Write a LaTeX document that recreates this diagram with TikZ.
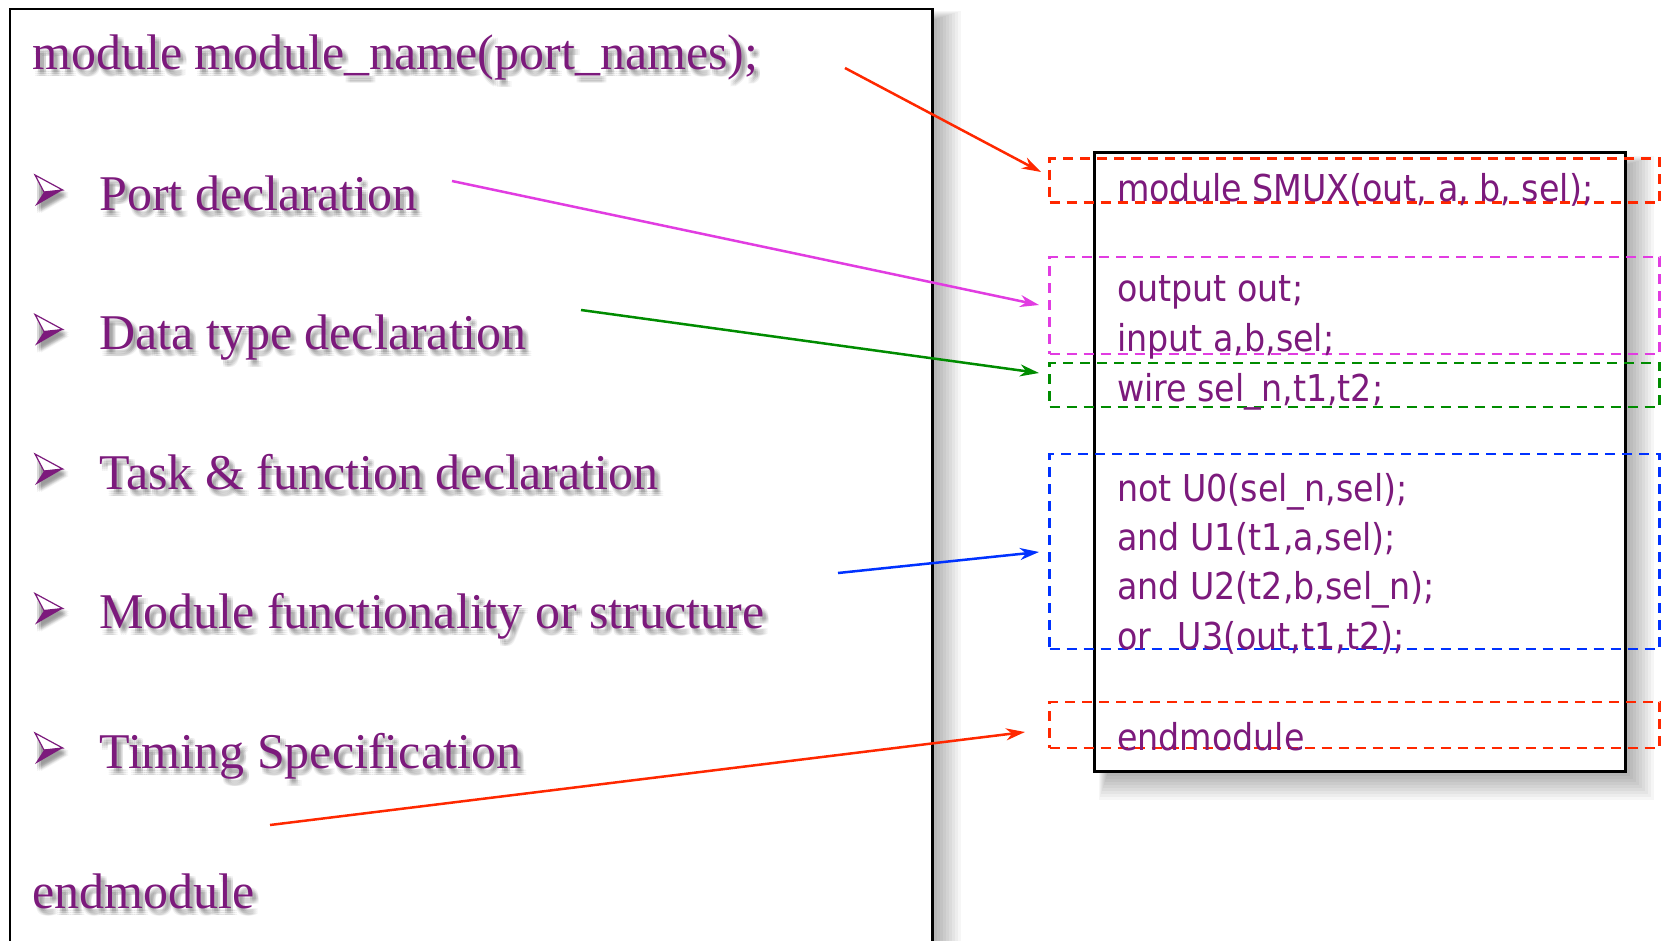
\documentclass[tikz,border=0pt]{standalone}
\usepackage{fontspec}
\setmainfont{Liberation Serif}
\newfontfamily\codefont{DejaVu Sans Condensed}
\usetikzlibrary{arrows.meta,calc}
\definecolor{vpurple}{RGB}{124,26,124}
\definecolor{ared}{RGB}{255,40,0}
\definecolor{amag}{RGB}{225,60,225}
\definecolor{agreen}{RGB}{0,140,0}
\definecolor{ablue}{RGB}{0,50,255}
\newcommand\lefttext[4]{%
  \foreach \dx/\dy [count=\k] in {2/3,4/3,6/3,2/5,4/5,6/5,2/7,4/7,6/7} {
    \node[lefttxt, text=black, text opacity=0.055] (#1s\k) at (#2+\dx,#3+\dy) {#4};
  }
  \node[lefttxt] (#1) at (#2,#3) {#4};
}
\newcommand\bullmark[1]{%
  \foreach \dx/\dy in {2/3,4/3,6/3,2/5,4/5,6/5,2/7,4/7,6/7} {
    \fill[black, fill opacity=0.05] (35+\dx,#1-35+\dy) -- (62.7+\dx,#1-20+\dy) -- (35+\dx,#1-4+\dy) -- cycle;
  }
  \filldraw[fill=white, draw=vpurple, line width=1.2pt, line join=miter] (35,#1-35) -- (62.7,#1-20) -- (44,#1-18) -- cycle;
  \fill[vpurple] (44,#1-18) -- (62.7,#1-20) -- (35,#1-4) -- cycle;
}
\begin{document}
\begin{tikzpicture}[x=1pt,y=-1pt,
  lefttxt/.style={anchor=base west, inner sep=0pt, text=vpurple, font=\fontsize{50}{60}\selectfont},
  codetxt/.style={anchor=base west, inner sep=0pt, text=vpurple, font=\codefont\fontsize{37}{44}\selectfont},
  dbox/.style={draw, dash pattern=on 10pt off 7pt, line width=2.5pt, inner sep=0pt, minimum width=610pt},
  conn/.style={line width=2.5pt, -{Stealth[length=19pt,width=12pt,inset=6pt]}},
  shadowlayer/.style={fill=black, fill opacity=0.036},
]
\useasboundingbox (0,0) rectangle (1663,940);
\clip (0,0) rectangle (1663,940);
\fill[white] (0,0) rectangle (1663,940);

% left box and its shadow
\foreach \c in {0,3,...,27} {
  \fill[shadowlayer] (20,20-\c/3) rectangle (934+\c,960);
}
\node[draw=black, fill=white, line width=2.5pt, minimum width=922.5pt, minimum height=960pt, inner sep=0pt, anchor=north west] (leftbox) at (8.5,7.5) {};

% right box and its shadow
\foreach \c in {0,3,...,27} {
  \fill[shadowlayer] (1108-\c/3,165-\c/3) rectangle (1627+\c,773+\c);
}
\node[draw=black, fill=white, line width=2.5pt, minimum width=531pt, minimum height=619pt, inner sep=0pt, anchor=north west] (rightbox) at (1093,151) {};

% dashed boxes
\node[dbox, draw=ared, minimum height=44pt] (b1) at (1354.5,180.5) {};
\node[dbox, draw=amag, minimum height=97pt] (b2) at (1354.5,305.5) {};
\node[dbox, draw=agreen, minimum height=44pt] (b3) at (1354.5,385) {};
\node[dbox, draw=ablue, minimum height=195pt] (b4) at (1354.5,551.5) {};
\node[dbox, draw=ared, minimum height=46pt] (b5) at (1354.5,725) {};

% code lines
\node[codetxt] (c1) at (1117,201) {module SMUX(out, a, b, sel);};
\node[codetxt] (c2) at (1117,301) {output out;};
\node[codetxt] (c3) at (1117,351) {input a,b,sel;};
\node[codetxt] (c4) at (1117,401) {wire sel\_n,t1,t2;};
\node[codetxt] (c5) at (1117,501) {not U0(sel\_n,sel);};
\node[codetxt] (c6) at (1117,550) {and U1(t1,a,sel);};
\node[codetxt] (c7) at (1117,599) {and U2(t2,b,sel\_n);};
\node[codetxt] (c8) at (1117,649) {or\hspace{0.72em}U3(out,t1,t2);};
\node[codetxt] (c9) at (1117,750) {endmodule};

% left texts
\lefttext{title}{32}{69}{module module\_name(port\_names);}
\bullmark{210}
\lefttext{port}{99}{210}{Port declaration}
\bullmark{349.5}
\lefttext{data}{99}{349.5}{Data type declaration}
\bullmark{489}
\lefttext{task}{99}{489}{Task \& function declaration}
\bullmark{628.5}
\lefttext{func}{99}{628.5}{Module functionality or structure}
\bullmark{768}
\lefttext{timing}{99}{768}{Timing Specification}
\lefttext{endm}{32}{908}{endmodule}

% connectors
\coordinate (s1) at (845,68);   \coordinate (e1) at (1041,172);
\coordinate (s2) at (452,181);  \coordinate (e2) at (1039,305);
\coordinate (s3) at (581,310);  \coordinate (e3) at (1039,373);
\coordinate (s4) at (838,573);  \coordinate (e4) at (1039,552);
\coordinate (s5) at (270,825);  \coordinate (e5) at (1025,732);
\draw[conn, ared] (s1) -- (e1);
\draw[conn, amag] (s2) -- (e2);
\draw[conn, agreen] (s3) -- (e3);
\draw[conn, ablue] (s4) -- (e4);
\draw[conn, ared] (s5) -- (e5);
\end{tikzpicture}
\end{document}
